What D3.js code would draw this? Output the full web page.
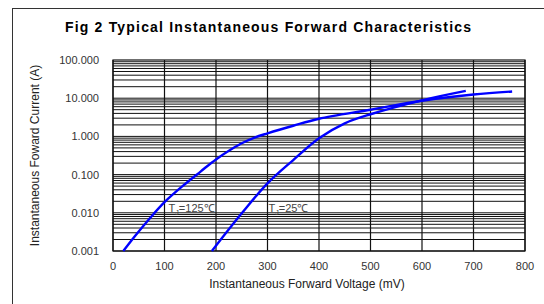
<!DOCTYPE html>
<html>
<head>
<meta charset="utf-8">
<script src="https://cdn.jsdelivr.net/npm/d3@7"></script>
<style>
  body { margin: 0; background: #fff; }
  text { font-family: "Liberation Sans", Arial, sans-serif; }
</style>
</head>
<body>
<div id="chart"></div>
<script>
const svgWidth = 544
const svgHeight = 304
let margin = { top: 60, right: 19, bottom: 53, left: 113 }
let width = svgWidth - margin.left - margin.right
let height = svgHeight - margin.top - margin.bottom

// TJ = 125 C
const voltsHot = [20, 42, 70, 100, 135, 170, 200, 250, 275, 300, 350, 400, 500, 600, 700, 775]
const ampsHot = [0.001, 0.0024, 0.0068, 0.019, 0.05, 0.12, 0.25, 0.66, 0.93, 1.2, 1.9, 2.9, 5.0, 8.6, 12.5, 15]
// TJ = 25 C
const voltsCold = [192, 250, 300, 350, 400, 450, 500, 600, 685]
const ampsCold = [0.001, 0.0097, 0.059, 0.24, 0.89, 2.2, 3.8, 8.8, 15.5]

const xTicks = [0, 100, 200, 300, 400, 500, 600, 700, 800]
const yTicks = [0.001, 0.01, 0.1, 1, 10, 100]
const yTickLabels = ["0.001", "0.010", "0.100", "1.000", "10.000", "100.000"]

let svg = d3.select("#chart")
  .append("svg")
  .attr("width", svgWidth)
  .attr("height", svgHeight)

// outer frame
svg.append("rect")
  .attr("x", 12.5).attr("y", 8.5)
  .attr("width", 600).attr("height", 400)
  .attr("fill", "none")
  .attr("stroke", "#333")

svg.append("text")
  .attr("x", 268).attr("y", 32)
  .attr("text-anchor", "middle")
  .attr("textLength", 406)
  .attr("lengthAdjust", "spacing")
  .style("font-size", "14px")
  .style("font-weight", "bold")
  .text("Fig 2 Typical Instantaneous Forward Characteristics")

let chartGroup = svg.append("g")
  .attr("transform", `translate(${margin.left}, ${margin.top})`)

let x = d3.scaleLinear().domain([0, 800]).range([0, width])
let y = d3.scaleLog().domain([0.001, 100]).range([height, 0])

// minor + major horizontal grid
let hLines = []
for (let d = 0.001; d < 100; d *= 10) {
  for (let k = 1; k < 10; k++) hLines.push(d * k)
}
chartGroup.selectAll(".hgrid")
  .data(hLines)
  .enter()
  .append("line")
  .attr("x1", 0).attr("x2", width)
  .attr("y1", d => y(d)).attr("y2", d => y(d))
  .attr("stroke", "#111")
  .attr("stroke-width", 1)

chartGroup.selectAll(".vgrid")
  .data(xTicks)
  .enter()
  .append("line")
  .attr("x1", d => x(d)).attr("x2", d => x(d))
  .attr("y1", 0).attr("y2", height)
  .attr("stroke", "#111")
  .attr("stroke-width", 1.2)

chartGroup.append("rect")
  .attr("width", width).attr("height", height)
  .attr("fill", "none")
  .attr("stroke", "#111")
  .attr("stroke-width", 1.2)

// tick labels
chartGroup.selectAll(".ylab")
  .data(yTicks)
  .enter()
  .append("text")
  .attr("x", -14)
  .attr("y", d => y(d) + 4)
  .attr("text-anchor", "end")
  .style("font-size", "11px")
  .style("fill", "#333")
  .text((d, i) => yTickLabels[i])

chartGroup.selectAll(".xlab")
  .data(xTicks)
  .enter()
  .append("text")
  .attr("x", d => x(d))
  .attr("y", height + 19)
  .attr("text-anchor", "middle")
  .style("font-size", "11px")
  .style("fill", "#333")
  .text(d => d)

svg.append("text")
  .attr("x", margin.left + width / 2 - 12)
  .attr("y", 288)
  .attr("text-anchor", "middle")
  .style("font-size", "12px")
  .style("fill", "#222")
  .text("Instantaneous Forward Voltage (mV)")

svg.append("text")
  .attr("transform", `translate(39, ${margin.top + height / 2}) rotate(-90)`)
  .attr("text-anchor", "middle")
  .style("font-size", "12px")
  .style("fill", "#222")
  .text("Instantaneous Foward Current (A)")

// curves
let line = d3.line()
  .x(d => x(d[0]))
  .y(d => y(d[1]))
  .curve(d3.curveCatmullRom.alpha(0.5))

chartGroup.append("path")
  .datum(voltsHot.map((v, i) => [v, ampsHot[i]]))
  .attr("d", line)
  .attr("fill", "none")
  .attr("stroke", "#0000ff")
  .attr("stroke-width", 2.4)

chartGroup.append("path")
  .datum(voltsCold.map((v, i) => [v, ampsCold[i]]))
  .attr("d", line)
  .attr("fill", "none")
  .attr("stroke", "#0000ff")
  .attr("stroke-width", 2.4)

// curve labels
function tjLabel(xv, yv, temp) {
  let t = chartGroup.append("text")
    .attr("x", x(xv))
    .attr("y", y(yv))
    .style("font-size", "11px")
    .style("fill", "#444")
  t.append("tspan").text("T")
  t.append("tspan").attr("dy", 3).style("font-size", "7px").text("J")
  t.append("tspan").attr("dy", -3).text("=" + temp + "℃")
}
tjLabel(108, 0.0105, 125)
tjLabel(302, 0.0105, 25)
</script>
</body>
</html>
